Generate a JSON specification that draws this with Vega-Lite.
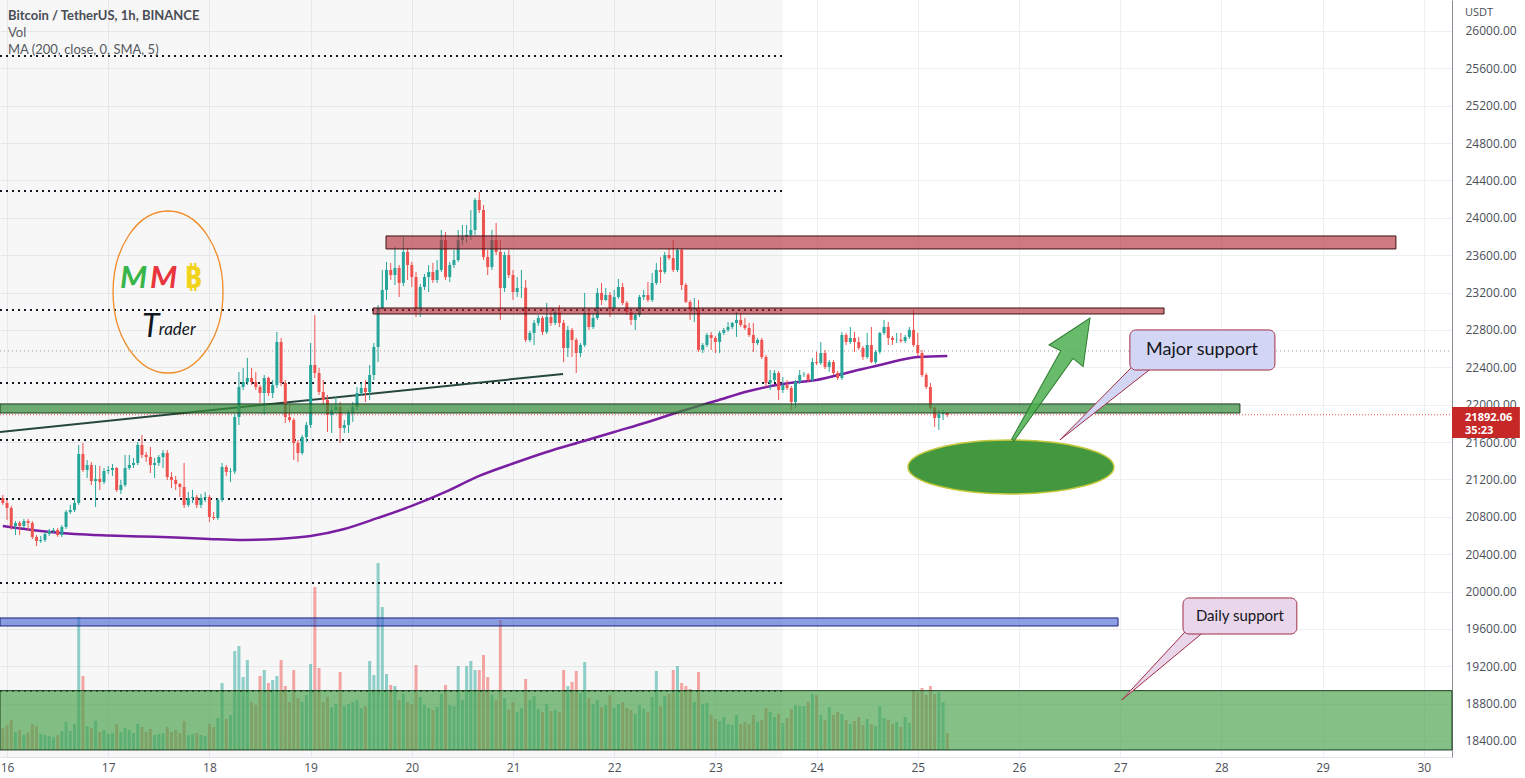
{
"$schema":"https://vega.github.io/schema/vega-lite/v6.json",
"width":1452,"height":757,"autosize":{"type":"none"},
"padding":{"left":0,"top":0,"right":73,"bottom":21},
"background":"#ffffff",
"config":{"view":{"stroke":null},"font":"Open Sans","scale":{"continuousPadding":0},
 "axis":{"labelFont":"Open Sans","labelFontSize":12,"labelColor":"#4b4f59","gridColor":"#eeeff3","labelFlush":false,"labelOverlap":false}},
"datasets":{
"candles":[
{"t":"2022-07-15T23:00","o":21001,"h":21034,"l":20927,"c":20948,"v":2200},
{"t":"2022-07-16T00:00","o":20948,"h":20980,"l":20766,"c":20894,"v":2500},
{"t":"2022-07-16T01:00","o":20894,"h":20916,"l":20659,"c":20702,"v":3000},
{"t":"2022-07-16T02:00","o":20702,"h":20755,"l":20605,"c":20734,"v":1800},
{"t":"2022-07-16T03:00","o":20734,"h":20755,"l":20605,"c":20702,"v":2000},
{"t":"2022-07-16T04:00","o":20702,"h":20777,"l":20680,"c":20755,"v":1500},
{"t":"2022-07-16T05:00","o":20755,"h":20777,"l":20648,"c":20734,"v":1700},
{"t":"2022-07-16T06:00","o":20734,"h":20755,"l":20562,"c":20584,"v":2600},
{"t":"2022-07-16T07:00","o":20584,"h":20605,"l":20487,"c":20541,"v":2400},
{"t":"2022-07-16T08:00","o":20541,"h":20595,"l":20520,"c":20552,"v":1600},
{"t":"2022-07-16T09:00","o":20552,"h":20637,"l":20530,"c":20616,"v":1500},
{"t":"2022-07-16T10:00","o":20616,"h":20670,"l":20595,"c":20648,"v":1400},
{"t":"2022-07-16T11:00","o":20648,"h":20680,"l":20627,"c":20659,"v":1300},
{"t":"2022-07-16T12:00","o":20659,"h":20680,"l":20584,"c":20605,"v":1500},
{"t":"2022-07-16T13:00","o":20605,"h":20712,"l":20584,"c":20691,"v":1900},
{"t":"2022-07-16T14:00","o":20691,"h":20873,"l":20670,"c":20852,"v":2800},
{"t":"2022-07-16T15:00","o":20852,"h":20927,"l":20830,"c":20873,"v":1900},
{"t":"2022-07-16T16:00","o":20873,"h":21001,"l":20852,"c":20948,"v":2600},
{"t":"2022-07-16T17:00","o":20948,"h":21569,"l":20927,"c":21472,"v":13300},
{"t":"2022-07-16T18:00","o":21472,"h":21590,"l":21280,"c":21301,"v":7400},
{"t":"2022-07-16T19:00","o":21301,"h":21408,"l":21216,"c":21354,"v":2400},
{"t":"2022-07-16T20:00","o":21354,"h":21386,"l":21140,"c":21183,"v":2200},
{"t":"2022-07-16T21:00","o":21183,"h":21354,"l":20905,"c":21205,"v":2900},
{"t":"2022-07-16T22:00","o":21205,"h":21344,"l":21087,"c":21173,"v":1800},
{"t":"2022-07-16T23:00","o":21173,"h":21322,"l":21151,"c":21290,"v":2000},
{"t":"2022-07-17T00:00","o":21290,"h":21344,"l":21258,"c":21301,"v":1600},
{"t":"2022-07-17T01:00","o":21301,"h":21365,"l":21237,"c":21322,"v":1700},
{"t":"2022-07-17T02:00","o":21322,"h":21333,"l":21066,"c":21087,"v":2600},
{"t":"2022-07-17T03:00","o":21087,"h":21194,"l":21044,"c":21140,"v":1800},
{"t":"2022-07-17T04:00","o":21140,"h":21462,"l":21119,"c":21322,"v":2200},
{"t":"2022-07-17T05:00","o":21322,"h":21462,"l":21301,"c":21354,"v":2000},
{"t":"2022-07-17T06:00","o":21354,"h":21429,"l":21322,"c":21376,"v":1700},
{"t":"2022-07-17T07:00","o":21376,"h":21601,"l":21354,"c":21569,"v":2600},
{"t":"2022-07-17T08:00","o":21569,"h":21676,"l":21429,"c":21462,"v":2300},
{"t":"2022-07-17T09:00","o":21462,"h":21494,"l":21387,"c":21440,"v":1800},
{"t":"2022-07-17T10:00","o":21440,"h":21547,"l":21269,"c":21354,"v":2100},
{"t":"2022-07-17T11:00","o":21354,"h":21429,"l":21216,"c":21376,"v":1500},
{"t":"2022-07-17T12:00","o":21376,"h":21462,"l":21344,"c":21440,"v":1600},
{"t":"2022-07-17T13:00","o":21440,"h":21515,"l":21322,"c":21483,"v":1700},
{"t":"2022-07-17T14:00","o":21483,"h":21515,"l":21194,"c":21226,"v":2300},
{"t":"2022-07-17T15:00","o":21226,"h":21280,"l":21108,"c":21194,"v":1800},
{"t":"2022-07-17T16:00","o":21194,"h":21237,"l":21087,"c":21151,"v":2000},
{"t":"2022-07-17T17:00","o":21151,"h":21162,"l":21012,"c":21119,"v":1700},
{"t":"2022-07-17T18:00","o":21119,"h":21376,"l":20894,"c":20927,"v":2900},
{"t":"2022-07-17T19:00","o":20927,"h":21066,"l":20905,"c":21001,"v":1500},
{"t":"2022-07-17T20:00","o":21001,"h":21087,"l":20948,"c":21012,"v":1600},
{"t":"2022-07-17T21:00","o":21012,"h":21034,"l":20894,"c":20927,"v":1700},
{"t":"2022-07-17T22:00","o":20927,"h":21044,"l":20894,"c":21001,"v":1500},
{"t":"2022-07-17T23:00","o":21001,"h":21066,"l":20958,"c":21012,"v":1400},
{"t":"2022-07-18T00:00","o":21012,"h":21034,"l":20745,"c":20798,"v":2600},
{"t":"2022-07-18T01:00","o":20798,"h":20852,"l":20766,"c":20787,"v":2300},
{"t":"2022-07-18T02:00","o":20787,"h":21001,"l":20766,"c":20980,"v":3200},
{"t":"2022-07-18T03:00","o":20980,"h":21376,"l":20958,"c":21333,"v":6700},
{"t":"2022-07-18T04:00","o":21333,"h":21354,"l":21237,"c":21280,"v":3100},
{"t":"2022-07-18T05:00","o":21280,"h":21322,"l":21173,"c":21285,"v":3500},
{"t":"2022-07-18T06:00","o":21285,"h":21901,"l":21258,"c":21868,"v":9900},
{"t":"2022-07-18T07:00","o":21868,"h":22350,"l":21783,"c":22189,"v":10400},
{"t":"2022-07-18T08:00","o":22189,"h":22393,"l":22157,"c":22243,"v":7300},
{"t":"2022-07-18T09:00","o":22243,"h":22500,"l":22211,"c":22286,"v":9000},
{"t":"2022-07-18T10:00","o":22286,"h":22393,"l":22211,"c":22243,"v":4800},
{"t":"2022-07-18T11:00","o":22243,"h":22350,"l":22157,"c":22189,"v":4500},
{"t":"2022-07-18T12:00","o":22189,"h":22211,"l":22018,"c":22125,"v":7400},
{"t":"2022-07-18T13:00","o":22125,"h":22318,"l":21890,"c":22286,"v":8000},
{"t":"2022-07-18T14:00","o":22286,"h":22300,"l":22093,"c":22125,"v":6700},
{"t":"2022-07-18T15:00","o":22125,"h":22264,"l":22071,"c":22211,"v":7000},
{"t":"2022-07-18T16:00","o":22211,"h":22778,"l":22179,"c":22671,"v":7400},
{"t":"2022-07-18T17:00","o":22671,"h":22714,"l":22200,"c":22232,"v":9000},
{"t":"2022-07-18T18:00","o":22232,"h":22264,"l":21804,"c":21868,"v":6400},
{"t":"2022-07-18T19:00","o":21868,"h":21997,"l":21815,"c":21836,"v":4800},
{"t":"2022-07-18T20:00","o":21836,"h":21858,"l":21408,"c":21590,"v":8000},
{"t":"2022-07-18T21:00","o":21590,"h":21622,"l":21387,"c":21483,"v":5200},
{"t":"2022-07-18T22:00","o":21483,"h":21676,"l":21462,"c":21654,"v":4800},
{"t":"2022-07-18T23:00","o":21654,"h":21815,"l":21601,"c":21783,"v":5500},
{"t":"2022-07-19T00:00","o":21783,"h":22660,"l":21751,"c":22425,"v":8600},
{"t":"2022-07-19T01:00","o":22425,"h":22960,"l":22286,"c":22339,"v":16300},
{"t":"2022-07-19T02:00","o":22339,"h":22393,"l":22104,"c":22136,"v":8200},
{"t":"2022-07-19T03:00","o":22136,"h":22264,"l":21997,"c":22050,"v":4800},
{"t":"2022-07-19T04:00","o":22050,"h":22104,"l":21708,"c":21890,"v":5300},
{"t":"2022-07-19T05:00","o":21890,"h":21997,"l":21697,"c":21943,"v":4300},
{"t":"2022-07-19T06:00","o":21943,"h":22082,"l":21922,"c":21976,"v":4600},
{"t":"2022-07-19T07:00","o":21976,"h":22029,"l":21590,"c":21751,"v":7800},
{"t":"2022-07-19T08:00","o":21751,"h":21836,"l":21697,"c":21783,"v":4400},
{"t":"2022-07-19T09:00","o":21783,"h":21943,"l":21697,"c":21911,"v":4600},
{"t":"2022-07-19T10:00","o":21911,"h":22029,"l":21815,"c":21976,"v":4800},
{"t":"2022-07-19T11:00","o":21976,"h":22189,"l":21943,"c":22125,"v":5000},
{"t":"2022-07-19T12:00","o":22125,"h":22232,"l":22093,"c":22179,"v":4200},
{"t":"2022-07-19T13:00","o":22179,"h":22264,"l":22029,"c":22136,"v":4400},
{"t":"2022-07-19T14:00","o":22136,"h":22425,"l":22050,"c":22318,"v":8900},
{"t":"2022-07-19T15:00","o":22318,"h":22660,"l":22264,"c":22618,"v":7500},
{"t":"2022-07-19T16:00","o":22618,"h":23067,"l":22457,"c":23035,"v":18700},
{"t":"2022-07-19T17:00","o":23035,"h":23442,"l":23014,"c":23228,"v":14300},
{"t":"2022-07-19T18:00","o":23228,"h":23528,"l":23121,"c":23442,"v":7600},
{"t":"2022-07-19T19:00","o":23442,"h":23517,"l":23335,"c":23388,"v":6500},
{"t":"2022-07-19T20:00","o":23388,"h":23688,"l":23281,"c":23463,"v":6400},
{"t":"2022-07-19T21:00","o":23463,"h":23495,"l":23153,"c":23303,"v":5000},
{"t":"2022-07-19T22:00","o":23303,"h":23795,"l":23270,"c":23635,"v":5600},
{"t":"2022-07-19T23:00","o":23635,"h":23677,"l":23335,"c":23495,"v":4800},
{"t":"2022-07-20T00:00","o":23495,"h":23528,"l":23260,"c":23367,"v":4600},
{"t":"2022-07-20T01:00","o":23367,"h":23420,"l":22939,"c":23035,"v":8500},
{"t":"2022-07-20T02:00","o":23035,"h":23292,"l":22939,"c":23260,"v":5300},
{"t":"2022-07-20T03:00","o":23260,"h":23399,"l":23228,"c":23367,"v":4500},
{"t":"2022-07-20T04:00","o":23367,"h":23495,"l":23206,"c":23420,"v":4200},
{"t":"2022-07-20T05:00","o":23420,"h":23517,"l":23303,"c":23335,"v":4000},
{"t":"2022-07-20T06:00","o":23335,"h":23549,"l":23303,"c":23442,"v":4300},
{"t":"2022-07-20T07:00","o":23442,"h":23870,"l":23420,"c":23763,"v":5600},
{"t":"2022-07-20T08:00","o":23763,"h":23849,"l":23335,"c":23367,"v":6500},
{"t":"2022-07-20T09:00","o":23367,"h":23528,"l":23313,"c":23495,"v":4500},
{"t":"2022-07-20T10:00","o":23495,"h":23656,"l":23463,"c":23549,"v":4400},
{"t":"2022-07-20T11:00","o":23549,"h":23870,"l":23528,"c":23763,"v":8400},
{"t":"2022-07-20T12:00","o":23763,"h":23924,"l":23709,"c":23795,"v":5000},
{"t":"2022-07-20T13:00","o":23795,"h":23924,"l":23731,"c":23817,"v":8400},
{"t":"2022-07-20T14:00","o":23817,"h":24084,"l":23763,"c":23870,"v":8900},
{"t":"2022-07-20T15:00","o":23870,"h":24212,"l":23817,"c":24191,"v":8000},
{"t":"2022-07-20T16:00","o":24191,"h":24277,"l":24052,"c":24084,"v":8000},
{"t":"2022-07-20T17:00","o":24084,"h":24138,"l":23549,"c":23581,"v":9500},
{"t":"2022-07-20T18:00","o":23581,"h":23656,"l":23388,"c":23474,"v":7300},
{"t":"2022-07-20T19:00","o":23474,"h":23870,"l":23442,"c":23763,"v":5500},
{"t":"2022-07-20T20:00","o":23763,"h":23945,"l":23602,"c":23635,"v":5000},
{"t":"2022-07-20T21:00","o":23635,"h":23763,"l":22907,"c":23249,"v":13000},
{"t":"2022-07-20T22:00","o":23249,"h":23635,"l":23206,"c":23602,"v":5200},
{"t":"2022-07-20T23:00","o":23602,"h":23656,"l":23356,"c":23388,"v":4000},
{"t":"2022-07-21T00:00","o":23388,"h":23442,"l":23121,"c":23206,"v":4800},
{"t":"2022-07-21T01:00","o":23206,"h":23367,"l":23153,"c":23249,"v":3800},
{"t":"2022-07-21T02:00","o":23249,"h":23442,"l":23142,"c":23252,"v":4200},
{"t":"2022-07-21T03:00","o":23252,"h":23335,"l":22671,"c":22693,"v":7100},
{"t":"2022-07-21T04:00","o":22693,"h":22789,"l":22671,"c":22768,"v":5000},
{"t":"2022-07-21T05:00","o":22768,"h":22907,"l":22639,"c":22875,"v":5400},
{"t":"2022-07-21T06:00","o":22875,"h":22960,"l":22843,"c":22928,"v":4100},
{"t":"2022-07-21T07:00","o":22928,"h":22949,"l":22746,"c":22778,"v":3800},
{"t":"2022-07-21T08:00","o":22778,"h":23089,"l":22757,"c":22939,"v":4600},
{"t":"2022-07-21T09:00","o":22939,"h":23035,"l":22843,"c":22875,"v":3900},
{"t":"2022-07-21T10:00","o":22875,"h":23014,"l":22853,"c":22992,"v":4000},
{"t":"2022-07-21T11:00","o":22992,"h":23067,"l":22832,"c":22875,"v":3800},
{"t":"2022-07-21T12:00","o":22875,"h":22907,"l":22457,"c":22607,"v":8000},
{"t":"2022-07-21T13:00","o":22607,"h":22843,"l":22511,"c":22800,"v":6400},
{"t":"2022-07-21T14:00","o":22800,"h":22821,"l":22511,"c":22693,"v":6800},
{"t":"2022-07-21T15:00","o":22693,"h":22714,"l":22339,"c":22553,"v":7900},
{"t":"2022-07-21T16:00","o":22553,"h":22660,"l":22511,"c":22639,"v":5700},
{"t":"2022-07-21T17:00","o":22639,"h":23196,"l":22618,"c":22981,"v":8800},
{"t":"2022-07-21T18:00","o":22981,"h":23014,"l":22800,"c":22832,"v":5200},
{"t":"2022-07-21T19:00","o":22832,"h":22981,"l":22810,"c":22928,"v":4600},
{"t":"2022-07-21T20:00","o":22928,"h":23249,"l":22907,"c":23196,"v":5000},
{"t":"2022-07-21T21:00","o":23196,"h":23303,"l":23067,"c":23121,"v":4300},
{"t":"2022-07-21T22:00","o":23121,"h":23249,"l":23110,"c":23174,"v":4500},
{"t":"2022-07-21T23:00","o":23174,"h":23206,"l":22939,"c":23035,"v":5500},
{"t":"2022-07-22T00:00","o":23035,"h":23228,"l":23014,"c":23153,"v":4200},
{"t":"2022-07-22T01:00","o":23153,"h":23345,"l":23131,"c":23260,"v":4600},
{"t":"2022-07-22T02:00","o":23260,"h":23303,"l":23067,"c":23089,"v":4800},
{"t":"2022-07-22T03:00","o":23089,"h":23110,"l":22960,"c":22992,"v":4200},
{"t":"2022-07-22T04:00","o":22992,"h":23014,"l":22853,"c":22907,"v":4000},
{"t":"2022-07-22T05:00","o":22907,"h":22981,"l":22800,"c":22960,"v":3600},
{"t":"2022-07-22T06:00","o":22960,"h":23174,"l":22939,"c":23153,"v":4500},
{"t":"2022-07-22T07:00","o":23153,"h":23228,"l":23121,"c":23174,"v":4100},
{"t":"2022-07-22T08:00","o":23174,"h":23313,"l":23099,"c":23121,"v":3800},
{"t":"2022-07-22T09:00","o":23121,"h":23410,"l":23099,"c":23303,"v":5300},
{"t":"2022-07-22T10:00","o":23303,"h":23517,"l":23281,"c":23442,"v":7900},
{"t":"2022-07-22T11:00","o":23442,"h":23581,"l":23303,"c":23420,"v":4400},
{"t":"2022-07-22T12:00","o":23420,"h":23635,"l":23399,"c":23602,"v":5400},
{"t":"2022-07-22T13:00","o":23602,"h":23677,"l":23549,"c":23570,"v":5600},
{"t":"2022-07-22T14:00","o":23570,"h":23763,"l":23420,"c":23442,"v":8000},
{"t":"2022-07-22T15:00","o":23442,"h":23677,"l":23420,"c":23656,"v":8400},
{"t":"2022-07-22T16:00","o":23656,"h":23677,"l":23228,"c":23281,"v":6700},
{"t":"2022-07-22T17:00","o":23281,"h":23303,"l":23089,"c":23099,"v":6400},
{"t":"2022-07-22T18:00","o":23099,"h":23121,"l":22907,"c":23014,"v":6100},
{"t":"2022-07-22T19:00","o":23014,"h":23142,"l":22885,"c":23035,"v":4800},
{"t":"2022-07-22T20:00","o":23035,"h":23121,"l":22564,"c":22586,"v":7800},
{"t":"2022-07-22T21:00","o":22586,"h":22660,"l":22553,"c":22639,"v":4600},
{"t":"2022-07-22T22:00","o":22639,"h":22768,"l":22618,"c":22746,"v":4700},
{"t":"2022-07-22T23:00","o":22746,"h":22778,"l":22586,"c":22714,"v":3500},
{"t":"2022-07-23T00:00","o":22714,"h":22735,"l":22553,"c":22671,"v":3100},
{"t":"2022-07-23T01:00","o":22671,"h":22789,"l":22553,"c":22768,"v":2900},
{"t":"2022-07-23T02:00","o":22768,"h":22821,"l":22746,"c":22800,"v":3300},
{"t":"2022-07-23T03:00","o":22800,"h":22885,"l":22778,"c":22832,"v":2600},
{"t":"2022-07-23T04:00","o":22832,"h":22885,"l":22810,"c":22875,"v":2500},
{"t":"2022-07-23T05:00","o":22875,"h":22992,"l":22725,"c":22907,"v":3500},
{"t":"2022-07-23T06:00","o":22907,"h":22981,"l":22832,"c":22853,"v":2600},
{"t":"2022-07-23T07:00","o":22853,"h":22928,"l":22800,"c":22821,"v":2800},
{"t":"2022-07-23T08:00","o":22821,"h":22875,"l":22725,"c":22746,"v":2600},
{"t":"2022-07-23T09:00","o":22746,"h":22875,"l":22564,"c":22660,"v":3500},
{"t":"2022-07-23T10:00","o":22660,"h":22714,"l":22639,"c":22693,"v":2800},
{"t":"2022-07-23T11:00","o":22693,"h":22714,"l":22489,"c":22511,"v":3000},
{"t":"2022-07-23T12:00","o":22511,"h":22532,"l":22189,"c":22232,"v":4200},
{"t":"2022-07-23T13:00","o":22232,"h":22371,"l":22157,"c":22264,"v":3800},
{"t":"2022-07-23T14:00","o":22264,"h":22371,"l":22243,"c":22339,"v":3300},
{"t":"2022-07-23T15:00","o":22339,"h":22361,"l":22050,"c":22157,"v":3600},
{"t":"2022-07-23T16:00","o":22157,"h":22296,"l":22125,"c":22211,"v":2700},
{"t":"2022-07-23T17:00","o":22211,"h":22264,"l":22157,"c":22179,"v":3200},
{"t":"2022-07-23T18:00","o":22179,"h":22200,"l":21943,"c":22029,"v":4100},
{"t":"2022-07-23T19:00","o":22029,"h":22264,"l":21965,"c":22243,"v":4500},
{"t":"2022-07-23T20:00","o":22243,"h":22371,"l":22222,"c":22318,"v":4400},
{"t":"2022-07-23T21:00","o":22318,"h":22350,"l":22296,"c":22322,"v":4400},
{"t":"2022-07-23T22:00","o":22322,"h":22339,"l":22243,"c":22264,"v":4800},
{"t":"2022-07-23T23:00","o":22264,"h":22500,"l":22243,"c":22457,"v":5600},
{"t":"2022-07-24T00:00","o":22457,"h":22564,"l":22425,"c":22446,"v":5500},
{"t":"2022-07-24T01:00","o":22446,"h":22671,"l":22425,"c":22553,"v":3500},
{"t":"2022-07-24T02:00","o":22553,"h":22586,"l":22382,"c":22404,"v":3000},
{"t":"2022-07-24T03:00","o":22404,"h":22479,"l":22350,"c":22457,"v":4300},
{"t":"2022-07-24T04:00","o":22457,"h":22479,"l":22318,"c":22339,"v":3500},
{"t":"2022-07-24T05:00","o":22339,"h":22361,"l":22264,"c":22286,"v":3800},
{"t":"2022-07-24T06:00","o":22286,"h":22778,"l":22264,"c":22746,"v":3600},
{"t":"2022-07-24T07:00","o":22746,"h":22768,"l":22639,"c":22671,"v":3000},
{"t":"2022-07-24T08:00","o":22671,"h":22832,"l":22650,"c":22714,"v":2600},
{"t":"2022-07-24T09:00","o":22714,"h":22778,"l":22564,"c":22671,"v":2900},
{"t":"2022-07-24T10:00","o":22671,"h":22725,"l":22586,"c":22607,"v":3300},
{"t":"2022-07-24T11:00","o":22607,"h":22628,"l":22479,"c":22511,"v":2500},
{"t":"2022-07-24T12:00","o":22511,"h":22768,"l":22489,"c":22639,"v":3100},
{"t":"2022-07-24T13:00","o":22639,"h":22832,"l":22446,"c":22457,"v":2600},
{"t":"2022-07-24T14:00","o":22457,"h":22586,"l":22436,"c":22564,"v":2400},
{"t":"2022-07-24T15:00","o":22564,"h":22778,"l":22543,"c":22768,"v":4400},
{"t":"2022-07-24T16:00","o":22768,"h":22907,"l":22746,"c":22832,"v":3200},
{"t":"2022-07-24T17:00","o":22832,"h":22885,"l":22639,"c":22714,"v":3000},
{"t":"2022-07-24T18:00","o":22714,"h":22735,"l":22639,"c":22693,"v":2600},
{"t":"2022-07-24T19:00","o":22693,"h":22768,"l":22660,"c":22696,"v":2800},
{"t":"2022-07-24T20:00","o":22696,"h":22768,"l":22660,"c":22682,"v":2300},
{"t":"2022-07-24T21:00","o":22682,"h":22746,"l":22660,"c":22725,"v":3300},
{"t":"2022-07-24T22:00","o":22725,"h":22832,"l":22703,"c":22800,"v":2700},
{"t":"2022-07-24T23:00","o":22800,"h":23014,"l":22618,"c":22639,"v":6000},
{"t":"2022-07-25T00:00","o":22639,"h":22768,"l":22521,"c":22553,"v":5800},
{"t":"2022-07-25T01:00","o":22553,"h":22586,"l":22296,"c":22318,"v":6200},
{"t":"2022-07-25T02:00","o":22318,"h":22339,"l":22168,"c":22189,"v":5500},
{"t":"2022-07-25T03:00","o":22189,"h":22232,"l":21943,"c":21965,"v":6400},
{"t":"2022-07-25T04:00","o":21965,"h":21986,"l":21761,"c":21858,"v":5600},
{"t":"2022-07-25T05:00","o":21858,"h":21943,"l":21729,"c":21901,"v":5800},
{"t":"2022-07-25T06:00","o":21901,"h":21943,"l":21836,"c":21911,"v":4800},
{"t":"2022-07-25T07:00","o":21911,"h":21922,"l":21868,"c":21892.06,"v":1700}
],
"ma":[
{"t":"2022-07-15T23:00","p":20702},{"t":"2022-07-16T08:00","p":20648},{"t":"2022-07-16T16:00","p":20616},
{"t":"2022-07-17T00:00","p":20600},{"t":"2022-07-17T08:00","p":20589},{"t":"2022-07-17T16:00","p":20579},
{"t":"2022-07-18T00:00","p":20563},{"t":"2022-07-18T08:00","p":20552},{"t":"2022-07-18T16:00","p":20563},
{"t":"2022-07-19T00:00","p":20595},{"t":"2022-07-19T08:00","p":20670},{"t":"2022-07-19T16:00","p":20788},
{"t":"2022-07-20T00:00","p":20916},{"t":"2022-07-20T08:00","p":21066},{"t":"2022-07-20T16:00","p":21237},
{"t":"2022-07-21T00:00","p":21370},{"t":"2022-07-21T08:00","p":21494},{"t":"2022-07-21T16:00","p":21601},
{"t":"2022-07-22T00:00","p":21708},{"t":"2022-07-22T08:00","p":21815},{"t":"2022-07-22T16:00","p":21932},
{"t":"2022-07-23T00:00","p":22039},{"t":"2022-07-23T08:00","p":22147},{"t":"2022-07-23T16:00","p":22222},
{"t":"2022-07-24T00:00","p":22264},{"t":"2022-07-24T08:00","p":22350},{"t":"2022-07-24T16:00","p":22436},
{"t":"2022-07-25T00:00","p":22511},{"t":"2022-07-25T07:00","p":22521}
]
},
"resolve":{"scale":{"y":"independent"},"axis":{"x":"independent","y":"independent"}},
"layer":[
{"data":{"values":[{"t1":"2022-07-15T22:20","t2":"2022-07-23T16:00"}]},
 "mark":{"type":"rect","fill":"#000000","fillOpacity":0.032},
 "encoding":{
  "x":{"field":"t1","type":"temporal","scale":{"domain":[{"year":2022,"month":7,"date":15,"hours":22,"minutes":20},{"year":2022,"month":7,"date":30,"hours":6,"minutes":42}],"nice":false},"axis":null},
  "x2":{"field":"t2"}}},
{"data":{"name":"candles"},
 "mark":{"type":"bar","width":3},
 "encoding":{
  "x":{"field":"t","type":"temporal","axis":{"title":null,"orient":"bottom","values":[{"year":2022,"month":7,"date":16},{"year":2022,"month":7,"date":17},{"year":2022,"month":7,"date":18},{"year":2022,"month":7,"date":19},{"year":2022,"month":7,"date":20},{"year":2022,"month":7,"date":21},{"year":2022,"month":7,"date":22},{"year":2022,"month":7,"date":23},{"year":2022,"month":7,"date":24},{"year":2022,"month":7,"date":25},{"year":2022,"month":7,"date":26},{"year":2022,"month":7,"date":27},{"year":2022,"month":7,"date":28},{"year":2022,"month":7,"date":29},{"year":2022,"month":7,"date":30}],"format":"%-d","grid":true,"labels":true,"domain":true,"domainColor":"#e0e3eb","ticks":false,"labelPadding":5}},
  "y":{"field":"v","type":"quantitative","scale":{"domain":[-700,75000],"nice":false,"zero":false},"axis":null},
  "y2":{"datum":0},
  "color":{"condition":{"test":"datum.c >= datum.o","value":"#26a69a"},"value":"#ef5350"},
  "opacity":{"value":0.5}}},
{"data":{"values":[
   {"t1":"2022-07-15T22:20","t2":"2022-07-23T16:00","p":25733},
   {"t1":"2022-07-15T22:20","t2":"2022-07-23T16:00","p":24288},
   {"t1":"2022-07-15T22:20","t2":"2022-07-23T16:00","p":23014},
   {"t1":"2022-07-15T22:20","t2":"2022-07-23T16:00","p":22232},
   {"t1":"2022-07-15T22:20","t2":"2022-07-23T16:00","p":21622},
   {"t1":"2022-07-15T22:20","t2":"2022-07-23T16:00","p":20991},
   {"t1":"2022-07-15T22:20","t2":"2022-07-23T16:00","p":20092},
   {"t1":"2022-07-15T22:20","t2":"2022-07-23T16:00","p":18936}]},
  "mark":{"type":"rule","stroke":"#131722","strokeWidth":2,"strokeDash":[2,4]},
  "encoding":{
   "x":{"field":"t1","type":"temporal","axis":null},
   "x2":{"field":"t2"},
   "y":{"field":"p","type":"quantitative","scale":{"domain":[18228.7,26331.8],"nice":false,"zero":false},
    "axis":{"title":null,"orient":"right","values":[18400,18800,19200,19600,20000,20400,20800,21200,21600,22000,22400,22800,23200,23600,24000,24400,24800,25200,25600,26000],"format":".2f","grid":true,"domain":true,"domainColor":"#8a8d96","ticks":false,"labelPadding":13}}}},
 {"data":{"values":[{"t1":"2022-07-15T22:20","t2":"2022-07-30T06:42","p":22575}]},
  "mark":{"type":"rule","stroke":"#9598a1","strokeWidth":1,"strokeDash":[1,3]},
  "encoding":{"x":{"field":"t1","type":"temporal","axis":null},"x2":{"field":"t2"},"y":{"field":"p","type":"quantitative","scale":{"domain":[18228.7,26331.8],"nice":false,"zero":false},"axis":null}}},
 {"data":{"values":[{"t1":"2022-07-15T22:20","t2":"2022-07-30T06:42","p":21892.06}]},
  "mark":{"type":"rule","stroke":"#ef5350","strokeWidth":1,"strokeDash":[1,2]},
  "encoding":{"x":{"field":"t1","type":"temporal","axis":null},"x2":{"field":"t2"},"y":{"field":"p","type":"quantitative","scale":{"domain":[18228.7,26331.8],"nice":false,"zero":false},"axis":null}}},
 {"data":{"name":"ma"},
  "mark":{"type":"line","stroke":"#7b1fa2","strokeWidth":2.5,"interpolate":"monotone"},
  "encoding":{"x":{"field":"t","type":"temporal","axis":null},"y":{"field":"p","type":"quantitative","scale":{"domain":[18228.7,26331.8],"nice":false,"zero":false},"axis":null}}},
 {"data":{"values":[{"t":"2022-07-15T22:20","p":21708},{"t":"2022-07-21T11:52","p":22329}]},
  "mark":{"type":"line","stroke":"#26473d","strokeWidth":2},
  "encoding":{"x":{"field":"t","type":"temporal","axis":null},"y":{"field":"p","type":"quantitative","scale":{"domain":[18228.7,26331.8],"nice":false,"zero":false},"axis":null}}},
 {"data":{"name":"candles"},
  "mark":{"type":"rule","strokeWidth":1},
  "encoding":{"x":{"field":"t","type":"temporal","axis":null},"y":{"field":"l","type":"quantitative","scale":{"domain":[18228.7,26331.8],"nice":false,"zero":false},"axis":null},"y2":{"field":"h"},
   "color":{"condition":{"test":"datum.c >= datum.o","value":"#26a69a"},"value":"#ef5350"}}},
 {"data":{"name":"candles"},
  "mark":{"type":"bar","width":3},
  "encoding":{"x":{"field":"t","type":"temporal","axis":null},"y":{"field":"o","type":"quantitative","scale":{"domain":[18228.7,26331.8],"nice":false,"zero":false},"axis":null},"y2":{"field":"c"},
   "color":{"condition":{"test":"datum.c >= datum.o","value":"#26a69a"},"value":"#ef5350"}}},
 {"data":{"values":[{"t1":"2022-07-19T17:53","t2":"2022-07-29T17:24","p1":23806,"p2":23667},{"t1":"2022-07-19T14:48","t2":"2022-07-27T10:24","p1":23035,"p2":22971}]},
  "mark":{"type":"rect","fill":"#b22833","fillOpacity":0.62,"stroke":"#3d1014","strokeWidth":1},
  "encoding":{"x":{"field":"t1","type":"temporal","axis":null},"x2":{"field":"t2"},"y":{"field":"p1","type":"quantitative","scale":{"domain":[18228.7,26331.8],"nice":false,"zero":false},"axis":null},"y2":{"field":"p2"}}},
 {"data":{"values":[{"t1":"2022-07-15T22:20","t2":"2022-07-28T04:24","p1":22008,"p2":21911}]},
  "mark":{"type":"rect","fill":"#388e3c","fillOpacity":0.72,"stroke":"#1b3d1f","strokeWidth":1},
  "encoding":{"x":{"field":"t1","type":"temporal","axis":null},"x2":{"field":"t2"},"y":{"field":"p1","type":"quantitative","scale":{"domain":[18228.7,26331.8],"nice":false,"zero":false},"axis":null},"y2":{"field":"p2"}}},
 {"data":{"values":[{"t1":"2022-07-15T22:20","t2":"2022-07-26T23:30","p1":19717,"p2":19631}]},
  "mark":{"type":"rect","fill":"#3f5fcf","fillOpacity":0.6,"stroke":"#1a237e","strokeWidth":1},
  "encoding":{"x":{"field":"t1","type":"temporal","axis":null},"x2":{"field":"t2"},"y":{"field":"p1","type":"quantitative","scale":{"domain":[18228.7,26331.8],"nice":false,"zero":false},"axis":null},"y2":{"field":"p2"}}},
 {"data":{"values":[{"t1":"2022-07-15T22:20","t2":"2022-07-30T06:42","p1":18939,"p2":18304}]},
  "mark":{"type":"rect","fill":"#43a047","fillOpacity":0.65,"stroke":"#1b3d1f","strokeWidth":1},
  "encoding":{"x":{"field":"t1","type":"temporal","axis":null},"x2":{"field":"t2"},"y":{"field":"p1","type":"quantitative","scale":{"domain":[18228.7,26331.8],"nice":false,"zero":false},"axis":null},"y2":{"field":"p2"}}},
 {"data":{"values":[{"t":"2022-07-17T14:11","p":23206}]},
  "mark":{"type":"point","shape":"M 0.679 0 C 0.679 0.552 0.375 1 0 1 C -0.375 1 -0.679 0.552 -0.679 0 C -0.679 -0.552 -0.375 -1 0 -1 C 0.375 -1 0.679 -0.552 0.679 0 Z","size":26244,"filled":false,"stroke":"#f08a24","strokeWidth":1.3,"opacity":1},
  "encoding":{"x":{"field":"t","type":"temporal","axis":null},"y":{"field":"p","type":"quantitative","scale":{"domain":[18228.7,26331.8],"nice":false,"zero":false},"axis":null}}},
 {"data":{"values":[{"t":"2022-07-17T06:00","p":23249,"s":"M"}]},
  "mark":{"type":"text","font":"Lato","fontSize":31,"fontWeight":"bold","fontStyle":"italic","fill":"#3ab54a","align":"center","baseline":"alphabetic"},
  "encoding":{"x":{"field":"t","type":"temporal","axis":null},"y":{"field":"p","type":"quantitative","scale":{"domain":[18228.7,26331.8],"nice":false,"zero":false},"axis":null},"text":{"field":"s"}}},
 {"data":{"values":[{"t":"2022-07-17T13:07","p":23249,"s":"M"}]},
  "mark":{"type":"text","font":"Lato","fontSize":31,"fontWeight":"bold","fontStyle":"italic","fill":"#e8363c","align":"center","baseline":"alphabetic"},
  "encoding":{"x":{"field":"t","type":"temporal","axis":null},"y":{"field":"p","type":"quantitative","scale":{"domain":[18228.7,26331.8],"nice":false,"zero":false},"axis":null},"text":{"field":"s"}}},
 {"data":{"values":[{"t":"2022-07-17T20:07","p":23249,"s":"₿"}]},
  "mark":{"type":"text","font":"Noto Sans","fontSize":31,"fontWeight":"bold","fill":"#f2d31b","align":"center","baseline":"alphabetic"},
  "encoding":{"x":{"field":"t","type":"temporal","axis":null},"y":{"field":"p","type":"quantitative","scale":{"domain":[18228.7,26331.8],"nice":false,"zero":false},"axis":null},"text":{"field":"s"}}},
 {"data":{"values":[{"t":"2022-07-17T08:00","p":22725,"s":"T"}]},
  "mark":{"type":"text","font":"Lato","fontSize":32,"fontStyle":"italic","fill":"#131722","align":"left","baseline":"alphabetic"},
  "encoding":{"x":{"field":"t","type":"temporal","axis":null},"y":{"field":"p","type":"quantitative","scale":{"domain":[18228.7,26331.8],"nice":false,"zero":false},"axis":null},"text":{"field":"s"}}},
 {"data":{"values":[{"t":"2022-07-17T12:00","p":22746,"s":"rader"}]},
  "mark":{"type":"text","font":"Lato","fontSize":17,"fontStyle":"italic","fill":"#131722","align":"left","baseline":"alphabetic"},
  "encoding":{"x":{"field":"t","type":"temporal","axis":null},"y":{"field":"p","type":"quantitative","scale":{"domain":[18228.7,26331.8],"nice":false,"zero":false},"axis":null},"text":{"field":"s"}}},
 {"data":{"values":[{"t":"2022-07-25T22:06","p":21333}]},
  "mark":{"type":"point","shape":"M 1 0 C 1 0.145 0.552 0.262 0 0.262 C -0.552 0.262 -1 0.145 -1 0 C -1 -0.145 -0.552 -0.262 0 -0.262 C 0.552 -0.262 1 -0.145 1 0 Z","size":42436,"filled":true,"fill":"#43983f","stroke":"#c5c83a","strokeWidth":1.5,"opacity":1},
  "encoding":{"x":{"field":"t","type":"temporal","axis":null},"y":{"field":"p","type":"quantitative","scale":{"domain":[18228.7,26331.8],"nice":false,"zero":false},"axis":null}}},
 {"data":{"values":[{"t":"2022-07-26T07:42","p":22275}]},
  "mark":{"type":"point","shape":"M 0 -1 L 0.28 -0.38 L 0.1 -0.4 L 0.02 1 L -0.02 1 L -0.1 -0.4 L -0.28 -0.38 Z","size":20822,"angle":32.3,"filled":true,"fill":"#4caf50","fillOpacity":0.85,"stroke":"#2e7d32","strokeWidth":1,"opacity":1},
  "encoding":{"x":{"field":"t","type":"temporal","axis":null},"y":{"field":"p","type":"quantitative","scale":{"domain":[18228.7,26331.8],"nice":false,"zero":false},"axis":null}}},
 {"data":{"values":[{"k":1,"t":"2022-07-27T02:48","p":22404},{"k":2,"t":"2022-07-26T09:42","p":21622},{"k":3,"t":"2022-07-27T07:30","p":22393}]},
  "mark":{"type":"line","fill":"#d3d5f4","stroke":"#a02d45","strokeWidth":1},
  "encoding":{"x":{"field":"t","type":"temporal","axis":null},"y":{"field":"p","type":"quantitative","scale":{"domain":[18228.7,26331.8],"nice":false,"zero":false},"axis":null},"order":{"field":"k"}}},
 {"data":{"values":[{"t1":"2022-07-27T02:18","t2":"2022-07-28T12:42","p1":22800,"p2":22371}]},
  "mark":{"type":"rect","fill":"#d3d5f4","stroke":"#a02d45","strokeWidth":1,"cornerRadius":6},
  "encoding":{"x":{"field":"t1","type":"temporal","axis":null},"x2":{"field":"t2"},"y":{"field":"p1","type":"quantitative","scale":{"domain":[18228.7,26331.8],"nice":false,"zero":false},"axis":null},"y2":{"field":"p2"}}},
 {"data":{"values":[{"t":"2022-07-27T19:24","p":22586,"s":"Major support"}]},
  "mark":{"type":"text","font":"Lato","fontSize":18,"fill":"#131722","align":"center","baseline":"middle"},
  "encoding":{"x":{"field":"t","type":"temporal","axis":null},"y":{"field":"p","type":"quantitative","scale":{"domain":[18228.7,26331.8],"nice":false,"zero":false},"axis":null},"text":{"field":"s"}}},
 {"data":{"values":[{"k":1,"t":"2022-07-27T15:48","p":19588},{"k":2,"t":"2022-07-27T00:24","p":18839},{"k":3,"t":"2022-07-27T19:48","p":19567}]},
  "mark":{"type":"line","fill":"#ead6ea","stroke":"#a02d45","strokeWidth":1},
  "encoding":{"x":{"field":"t","type":"temporal","axis":null},"y":{"field":"p","type":"quantitative","scale":{"domain":[18228.7,26331.8],"nice":false,"zero":false},"axis":null},"order":{"field":"k"}}},
 {"data":{"values":[{"t1":"2022-07-27T14:54","t2":"2022-07-28T17:54","p1":19931,"p2":19545}]},
  "mark":{"type":"rect","fill":"#ead6ea","stroke":"#a02d45","strokeWidth":1,"cornerRadius":6},
  "encoding":{"x":{"field":"t1","type":"temporal","axis":null},"x2":{"field":"t2"},"y":{"field":"p1","type":"quantitative","scale":{"domain":[18228.7,26331.8],"nice":false,"zero":false},"axis":null},"y2":{"field":"p2"}}},
 {"data":{"values":[{"t":"2022-07-28T04:24","p":19738,"s":"Daily support"}]},
  "mark":{"type":"text","font":"Lato","fontSize":15,"fill":"#131722","align":"center","baseline":"middle"},
  "encoding":{"x":{"field":"t","type":"temporal","axis":null},"y":{"field":"p","type":"quantitative","scale":{"domain":[18228.7,26331.8],"nice":false,"zero":false},"axis":null},"text":{"field":"s"}}},
 {"data":{"values":[{"t":"2022-07-16T00:14","p":26161,"s":"Bitcoin / TetherUS, 1h, BINANCE"}]},
  "mark":{"type":"text","font":"Lato","fontSize":13,"fontWeight":"bold","fill":"#4a4d55","align":"left","baseline":"middle"},
  "encoding":{"x":{"field":"t","type":"temporal","axis":null},"y":{"field":"p","type":"quantitative","scale":{"domain":[18228.7,26331.8],"nice":false,"zero":false},"axis":null},"text":{"field":"s"}}},
 {"data":{"values":[{"t":"2022-07-16T00:14","p":25979,"s":"Vol"},{"t":"2022-07-16T00:14","p":25797,"s":"MA (200, close, 0, SMA, 5)"}]},
  "mark":{"type":"text","font":"Lato","fontSize":13,"fill":"#55585f","align":"left","baseline":"middle"},
  "encoding":{"x":{"field":"t","type":"temporal","axis":null},"y":{"field":"p","type":"quantitative","scale":{"domain":[18228.7,26331.8],"nice":false,"zero":false},"axis":null},"text":{"field":"s"}}},
 {"data":{"values":[{"t":"2022-07-30T09:48","p":26193,"s":"USDT"}]},
  "mark":{"type":"text","font":"Open Sans","fontSize":11,"fill":"#4b4f59","align":"left","baseline":"middle"},
  "encoding":{"x":{"field":"t","type":"temporal","axis":null},"y":{"field":"p","type":"quantitative","scale":{"domain":[18228.7,26331.8],"nice":false,"zero":false},"axis":null},"text":{"field":"s"}}},
 {"data":{"values":[{"t1":"2022-07-30T06:42","t2":"2022-07-30T22:48","p1":21976,"p2":21644}]},
  "mark":{"type":"rect","fill":"#c62828"},
  "encoding":{"x":{"field":"t1","type":"temporal","axis":null},"x2":{"field":"t2"},"y":{"field":"p1","type":"quantitative","scale":{"domain":[18228.7,26331.8],"nice":false,"zero":false},"axis":null},"y2":{"field":"p2"}}},
 {"data":{"values":[{"t":"2022-07-30T09:48","p":21862,"s":"21892.06"},{"t":"2022-07-30T09:48","p":21720,"s":"35:23"}]},
  "mark":{"type":"text","font":"Open Sans","fontSize":11,"fontWeight":"bold","fill":"#ffffff","align":"left","baseline":"middle"},
  "encoding":{"x":{"field":"t","type":"temporal","axis":null},"y":{"field":"p","type":"quantitative","scale":{"domain":[18228.7,26331.8],"nice":false,"zero":false},"axis":null},"text":{"field":"s"}}}
]}
